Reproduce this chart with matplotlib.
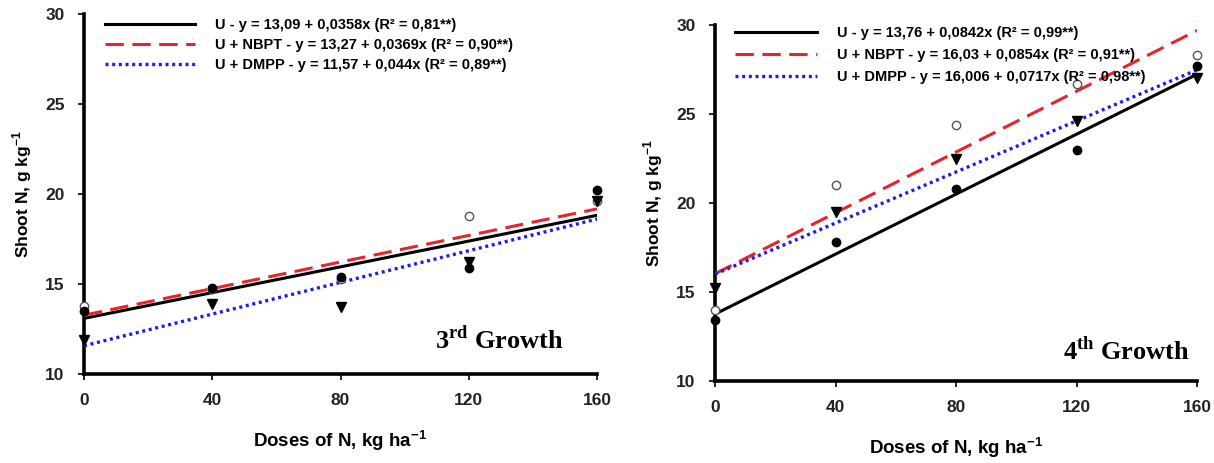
import numpy as np
import matplotlib
matplotlib.use("Agg")
import matplotlib.pyplot as plt

plt.rcParams['font.family'] = ['Liberation Sans', 'DejaVu Sans']
plt.rcParams['mathtext.fontset'] = 'custom'
plt.rcParams['mathtext.rm'] = 'Liberation Serif:bold'
plt.rcParams['mathtext.sf'] = 'Liberation Sans:bold'

# N doses (kg/ha)
doses = [0, 40, 80, 120, 160]

# 3rd growth - shoot N (g/kg)
g3_u = [13.5, 14.8, 15.4, 15.9, 20.2]
g3_nbpt = [13.8, 14.7, 15.3, 18.8, 19.6]
g3_dmpp = [11.9, 13.9, 13.7, 16.2, 19.6]
g3_coef = {"U": (13.09, 0.0358), "NBPT": (13.27, 0.0369), "DMPP": (11.57, 0.044)}
g3_labels = ["U - y = 13,09 + 0,0358x (R² = 0,81**)",
             "U + NBPT - y = 13,27 + 0,0369x (R² = 0,90**)",
             "U + DMPP - y = 11,57 + 0,044x (R² = 0,89**)"]

# 4th growth - shoot N (g/kg)
g4_u = [13.4, 17.8, 20.8, 23.0, 27.7]
g4_nbpt = [14.0, 21.0, 24.4, 26.7, 28.3]
g4_dmpp = [15.2, 19.5, 22.5, 24.6, 27.0]
g4_coef = {"U": (13.76, 0.0842), "NBPT": (16.03, 0.0854), "DMPP": (16.006, 0.0717)}
g4_labels = ["U - y = 13,76 + 0,0842x (R² = 0,99**)",
             "U + NBPT - y = 16,03 + 0,0854x (R² = 0,91**)",
             "U + DMPP - y = 16,006 + 0,0717x (R² = 0,98**)"]

RED = '#e8232b'
BLUE = '#1c1cf0'


def panel(ax, u, nbpt, dmpp, coef, labels, title, title_xy, leg_y, hlen, lspace):
    xs = np.array([0, 160])
    a, b = coef["U"]
    ax.plot(xs, a + b * xs, color='black', lw=2.2, label=labels[0], zorder=3)
    a, b = coef["NBPT"]
    ax.plot(xs, a + b * xs, color=RED, lw=2.2, dashes=(6, 2.8), label=labels[1], zorder=3)
    a, b = coef["DMPP"]
    ax.plot(xs, a + b * xs, color=BLUE, lw=2.4, dashes=(0.9, 1.1), label=labels[2], zorder=3)

    ax.plot(doses, nbpt, 'o', ms=6, mfc='white', mec='#555555', mew=1, zorder=4, clip_on=False)
    ax.plot(doses, u, 'o', ms=6, color='black', zorder=4, clip_on=False)
    ax.plot(doses, dmpp, 'v', ms=7, color='black', zorder=4, clip_on=False)

    ax.set_xlim(0, 160)
    ax.set_ylim(10, 30)
    ax.set_xticks(doses)
    ax.set_yticks([10, 15, 20, 25, 30])
    for s in ['top', 'right']:
        ax.spines[s].set_visible(False)
    for s in ['left', 'bottom']:
        ax.spines[s].set_linewidth(2.6)
    ax.tick_params(direction='out', length=4, width=1.2, labelsize=12.5, pad=10)
    for t in ax.get_xticklabels() + ax.get_yticklabels():
        t.set_fontweight('bold')
        t.set_color('#222222')
    ax.set_xlabel(r'Doses of N, kg ha$^{\mathsf{-1}}$', fontsize=13.5, fontweight='bold', labelpad=14)
    ax.set_ylabel(r'Shoot N, g kg$^{\mathsf{-1}}$', fontsize=12.5, fontweight='bold', labelpad=8)
    ax.legend(loc='upper left', bbox_to_anchor=(0.015, leg_y), frameon=False,
              handlelength=hlen, handletextpad=1.35, labelspacing=lspace,
              prop={'size': 10.5, 'weight': 'bold'})
    ax.text(title_xy[0], title_xy[1], title, transform=ax.transAxes, ha='right',
            va='center', fontsize=19, family='Liberation Serif', fontweight='bold')


fig = plt.figure(figsize=(12.14, 4.63), dpi=100)
ax1 = fig.add_axes([0.0692, 0.1922, 0.4226, 0.7775])
ax2 = fig.add_axes([0.589, 0.1771, 0.397, 0.7689])

panel(ax1, g3_u, g3_nbpt, g3_dmpp, g3_coef, g3_labels, r'3$^{\mathrm{rd}}$ Growth',
      (0.935, 0.095), 1.025, 6.2, 0.4)
panel(ax2, g4_u, g4_nbpt, g4_dmpp, g4_coef, g4_labels, r'4$^{\mathrm{th}}$ Growth',
      (0.985, 0.085), 1.035, 5.6, 0.55)

fig.savefig('out.png', dpi=100)
